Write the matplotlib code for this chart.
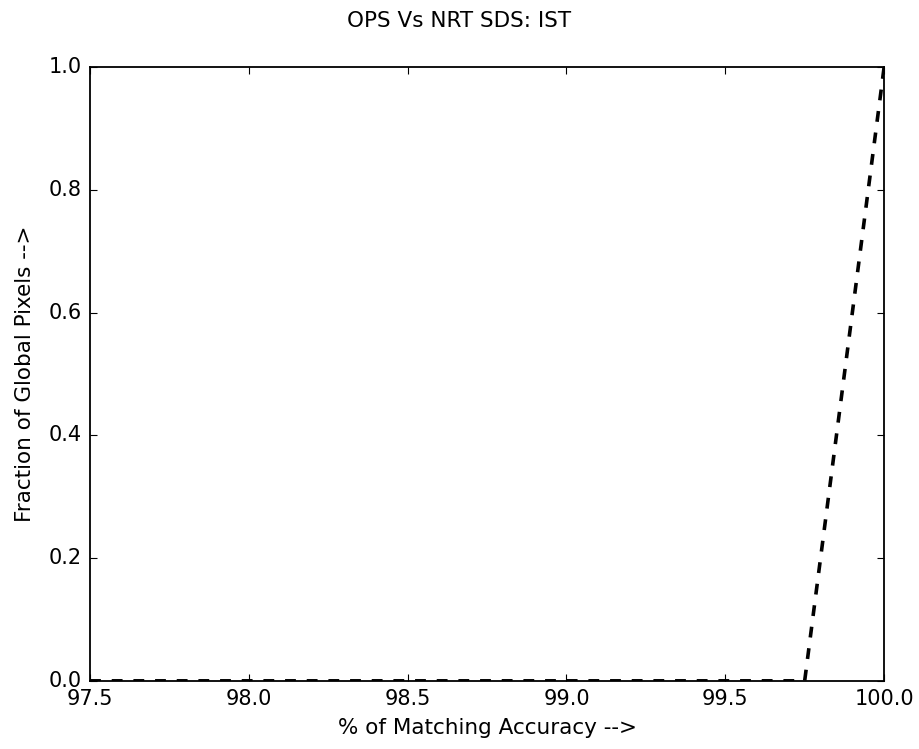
import matplotlib
matplotlib.use("Agg")
import matplotlib.pyplot as plt

accuracy = [97.5, 98.0, 98.5, 99.0, 99.5, 99.75, 100.0]
fraction = [0.0, 0.0, 0.0, 0.0, 0.0, 0.0, 1.0]

plt.style.use("classic")
fig = plt.figure(figsize=(9.19, 7.49), dpi=100, facecolor="white")
ax = fig.add_axes([0.098, 0.091, 0.864, 0.819])

ax.plot(accuracy, fraction, color="black", linestyle="--", dashes=(7.8, 7.8), linewidth=2.6)
ax.set_xlim(97.5, 100.0)
ax.set_ylim(0.0, 1.0)
ax.set_xticks([97.5, 98.0, 98.5, 99.0, 99.5, 100.0])
ax.set_yticks([0.0, 0.2, 0.4, 0.6, 0.8, 1.0])
ax.ticklabel_format(useOffset=False)
ax.tick_params(labelsize=15, length=5.2, width=0.8, pad=6)
for s in ax.spines.values():
    s.set_linewidth(1.3)
ax.set_xlabel("% of Matching Accuracy -->", fontsize=15.5, labelpad=6)
ax.set_ylabel("Fraction of Global Pixels -->", fontsize=15.5, labelpad=10)
fig.suptitle("OPS Vs NRT SDS: IST", fontsize=15.5, y=0.985)

fig.savefig("out.png", dpi=100, facecolor="white")
